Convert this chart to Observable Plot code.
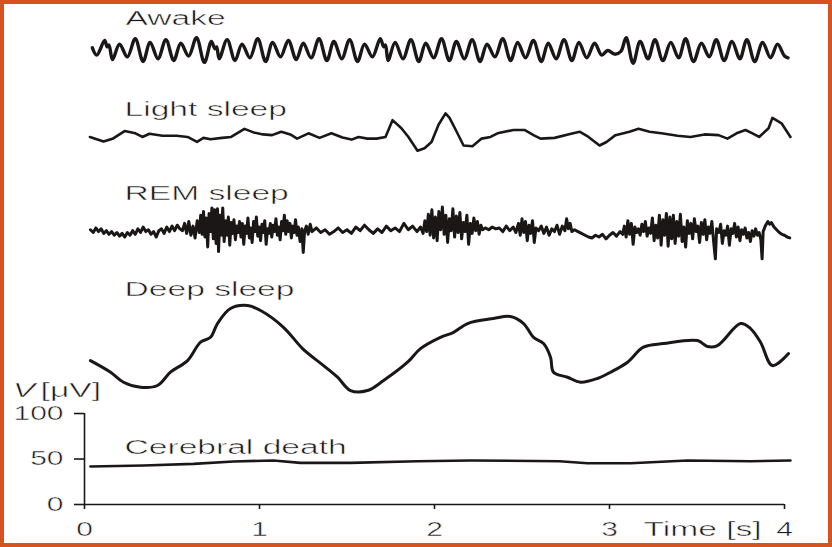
<!DOCTYPE html>
<html>
<head>
<meta charset="utf-8">
<script src="https://cdn.jsdelivr.net/npm/d3@7"></script>
<script src="https://cdn.jsdelivr.net/npm/@observablehq/plot@0.6"></script>
<style>
  html, body { margin: 0; padding: 0; background: #fff; }
  #wrap { position: relative; width: 832px; height: 547px; overflow: hidden; background: #fff; }
  #wrap svg { position: absolute; left: 0; top: 0; }
  #border { position: absolute; left: 0; top: 0; width: 832px; height: 547px; box-sizing: border-box;
            border: 4px solid #d6521f; pointer-events: none; }
</style>
</head>
<body>
<div id="wrap"><div id="chart"></div><div id="border"></div></div>
<script>
// ---------- data (time in s, voltage in µV on the shared axis) ----------
const xTicks = [0, 1, 2, 3, 4];
const yTicks = [0, 50, 100];
const traceNames = ["Awake", "Light sleep", "REM sleep", "Deep sleep", "Cerebral death"];
const labelT = [0.234, 0.229, 0.229, 0.229, 0.229];
const labelV = [534.5, 434.5, 342.2, 236.7, 63.1];
const axisTexts = ["V", "[μV]", "Time [s]"];
const axisTextT = [-0.41, -0.251, 3.194];
const axisTextV = [125.7, 125.7, -28.1];

const awake = [[0.045,502],[0.07,494],[0.115,510],[0.13,503],[0.14,505],[0.16,489],[0.20,506],[0.245,492],[0.29,512],[0.335,487],[0.375,508],[0.42,490],[0.465,511],[0.51,488],[0.55,507],[0.595,493],[0.64,513],[0.685,486],[0.725,509],[0.745,501],[0.755,503],[0.77,490],[0.815,511],[0.86,488],[0.90,506],[0.945,491],[0.99,512],[1.035,487],[1.075,508],[1.12,492],[1.165,510],[1.21,489],[1.25,507],[1.295,491],[1.34,512],[1.385,488],[1.425,509],[1.47,490],[1.515,511],[1.56,487],[1.60,506],[1.645,492],[1.69,512],[1.71,503],[1.72,505],[1.735,488],[1.775,508],[1.82,490],[1.865,511],[1.91,487],[1.95,507],[1.995,491],[2.04,512],[2.085,488],[2.125,509],[2.17,490],[2.215,511],[2.26,487],[2.30,506],[2.345,492],[2.39,512],[2.435,488],[2.475,508],[2.52,491],[2.565,510],[2.61,487],[2.65,507],[2.695,490],[2.74,511],[2.785,488],[2.825,508],[2.87,491],[2.915,507],[2.955,494],[2.99,499],[3.03,495],[3.065,498],[3.095,513],[3.135,485],[3.175,509],[3.22,490],[3.26,511],[3.305,488],[3.35,508],[3.395,491],[3.435,512],[3.48,487],[3.525,507],[3.57,492],[3.61,511],[3.655,488],[3.70,509],[3.745,490],[3.785,511],[3.83,487],[3.875,508],[3.92,491],[3.96,506],[4.0,493],[4.02,491]];

const lightSleep = [[0.031,404],[0.109,399],[0.16,402],[0.229,410.5],[0.291,408],[0.331,404],[0.371,407.5],[0.446,405.3],[0.526,405.3],[0.589,404],[0.643,398.5],[0.68,403],[0.72,401.4],[0.786,403],[0.838,404],[0.914,412.9],[0.966,409],[1.02,406.8],[1.072,406],[1.124,409.8],[1.176,406.8],[1.215,402.2],[1.28,408],[1.343,403],[1.411,408],[1.474,403.4],[1.526,401.1],[1.566,404],[1.617,402.2],[1.669,402.2],[1.72,404],[1.76,422.5],[1.811,413.6],[1.851,404],[1.903,388.9],[1.943,391.6],[1.983,398.5],[2.023,417.4],[2.063,430],[2.086,425],[2.126,410],[2.166,394.6],[2.217,393.8],[2.269,402.2],[2.32,404],[2.36,408],[2.451,411.7],[2.514,411.7],[2.566,406],[2.606,402.2],[2.686,403],[2.763,406.8],[2.829,409.8],[2.88,404],[2.943,394.6],[2.983,398.5],[3.034,406],[3.114,409.8],[3.166,412.9],[3.229,409.8],[3.297,408],[3.389,405.3],[3.463,404],[3.543,406.8],[3.623,406],[3.674,402.2],[3.726,408],[3.777,411.7],[3.817,408],[3.855,404],[3.909,413.6],[3.931,425],[3.983,419],[4.034,404]];

const remSleep = [[0.034,302],[0.05,299],[0.065,304],[0.08,300],[0.095,303],[0.11,298],[0.125,301],[0.14,297],[0.155,300],[0.17,296],[0.185,299],[0.20,295],[0.215,298],[0.23,294],[0.245,299],[0.26,296],[0.275,301],[0.29,297],[0.305,303],[0.32,299],[0.335,305],[0.35,300],[0.365,302],[0.38,297],[0.395,300],[0.41,294],[0.425,301],[0.44,303],[0.455,298],[0.47,305],[0.485,300],[0.50,306],[0.515,301],[0.53,307],[0.545,303],
[0.56,301],[0.572,309],[0.584,298],[0.596,311],[0.608,296],[0.62,306],[0.632,293],[0.644,312],[0.656,299],[0.664,318],[0.672,297],[0.68,322],[0.688,294],[0.696,315],[0.704,283],[0.712,320],[0.72,300],[0.728,326],[0.736,292],[0.744,324],[0.752,287],[0.76,325],[0.766,278],[0.774,318],[0.782,296],[0.79,326],[0.798,289],[0.806,312],[0.814,296],[0.822,316],[0.83,285],[0.838,310],[0.846,298],[0.854,313],[0.862,291],[0.87,306],[0.878,299],[0.886,311],
[0.894,294],[0.902,309],[0.91,286],[0.918,306],[0.926,298],[0.934,315],[0.942,293],[0.95,304],[0.958,288],[0.966,311],[0.974,300],[0.982,316],[0.99,295],[0.998,305],[1.006,290],[1.014,308],[1.022,299],[1.03,312],[1.038,286],[1.046,303],[1.054,298],[1.062,309],[1.07,294],[1.078,307],[1.086,300],[1.094,314],[1.102,296],[1.11,305],[1.118,291],[1.126,311],[1.134,301],[1.142,318],[1.15,297],[1.158,312],[1.166,300],[1.174,309],[1.182,293],[1.19,306],[1.198,299],[1.206,313],[1.214,296],[1.222,305],[1.232,289],[1.242,303],[1.25,277],[1.258,301],[1.268,306],[1.278,297],[1.29,308],[1.30,300],
[1.325,304],[1.35,299],[1.375,302],[1.40,297],[1.425,300],[1.45,304],[1.475,299],[1.50,302],[1.525,298],[1.55,305],[1.575,301],[1.60,307],[1.625,302],[1.65,298],[1.675,303],[1.70,299],[1.725,306],[1.75,301],[1.775,304],[1.80,300],[1.825,309],[1.85,302],[1.875,306],[1.90,300],[1.92,305],
[1.935,298],[1.945,312],[1.955,300],[1.965,319],[1.975,296],[1.985,324],[1.995,293],[2.005,316],[2.015,290],[2.025,322],[2.035,302],[2.045,327],[2.055,297],[2.065,318],[2.075,288],[2.085,314],[2.095,301],[2.105,325],[2.115,294],[2.125,317],[2.135,299],[2.145,321],[2.155,292],[2.165,310],[2.175,300],[2.185,318],[2.195,286],[2.205,309],[2.215,298],[2.225,315],[2.235,301],[2.245,311],[2.255,297],[2.265,307],[2.275,302],
[2.29,304],[2.31,302],[2.33,305],[2.35,303],[2.37,304],[2.39,300],[2.41,306],[2.43,301],[2.45,305],[2.465,299],
[2.48,309],[2.49,296],[2.50,314],[2.51,299],[2.52,311],[2.53,290],[2.54,307],[2.55,298],[2.56,312],[2.57,288],[2.58,304],[2.595,301],[2.61,306],[2.625,298],[2.64,305],[2.655,296],[2.67,303],[2.685,300],[2.70,307],[2.715,297],[2.73,306],[2.745,301],[2.755,314],[2.765,303],[2.775,309],[2.785,300],
[2.80,302],[2.82,300],[2.84,298],[2.86,296],[2.88,294],[2.90,293],[2.92,296],[2.94,294],[2.96,297],[2.98,292],[3.00,296],[3.02,299],[3.04,295],[3.06,300],[3.075,297],
[3.085,306],[3.095,294],[3.105,312],[3.115,297],[3.125,309],[3.135,286],[3.145,305],[3.155,299],[3.165,303],[3.175,296],[3.185,308],[3.195,300],[3.205,311],[3.215,295],[3.225,304],[3.235,298],[3.245,315],[3.255,290],[3.265,307],[3.275,293],[3.285,318],[3.295,285],[3.305,313],[3.315,296],[3.325,320],[3.335,284],[3.345,316],[3.355,292],[3.365,318],[3.375,287],[3.385,311],[3.395,295],[3.405,319],[3.415,289],[3.425,305],[3.435,283],[3.445,312],[3.455,298],[3.465,309],[3.475,292],[3.485,314],[3.495,300],[3.505,306],[3.515,288],[3.525,310],[3.535,297],[3.545,313],[3.555,291],[3.565,305],[3.575,298],[3.585,311],[3.595,289],[3.605,270],[3.612,303],[3.625,299],[3.635,308],[3.645,287],[3.655,301],[3.665,296],[3.675,306],[3.685,285],[3.695,303],[3.705,298],[3.715,309],[3.725,294],[3.735,305],[3.745,290],[3.755,302],[3.765,297],
[3.775,304],[3.785,293],[3.795,299],[3.805,289],[3.815,301],[3.825,295],[3.835,303],[3.845,296],[3.855,299],[3.865,291],[3.872,270],[3.878,300],
[3.89,306],[3.905,311],[3.915,308],[3.925,310],[3.94,305],[3.955,302],[3.97,299],[3.985,297],[4.00,296],[4.015,294],[4.03,293]];

const deepSleep = [[0.034,158.2],[0.149,145.4],[0.223,134.4],[0.32,128.9],[0.417,130.8],[0.491,145.4],[0.589,158.2],[0.663,178.4],[0.72,183.8],[0.76,198.9],[0.834,215.4],[0.931,218.7],[1.006,213.2],[1.137,194.8],[1.246,171.4],[1.366,152.7],[1.446,139.9],[1.52,125.3],[1.617,125.3],[1.709,136.3],[1.846,156.4],[1.92,171.4],[2.034,183.8],[2.109,189.3],[2.189,198.9],[2.337,204.4],[2.434,206.6],[2.509,198.9],[2.566,183.8],[2.623,176.9],[2.663,161.9],[2.68,145.4],[2.76,139.9],[2.834,134.4],[2.931,138.5],[3.006,145.4],[3.103,156.4],[3.194,172.9],[3.309,176.9],[3.503,180.2],[3.56,173.6],[3.617,174.7],[3.749,198.9],[3.806,193.4],[3.863,178.4],[3.931,152.7],[4.023,165.9]];

const cerebralDeath = [[0.034,41.8],[0.337,42.9],[0.623,44.7],[0.851,47.3],[1.08,48.4],[1.234,45.8],[1.52,45.8],[1.903,47.6],[2.206,48.4],[2.714,47.6],[2.874,45.4],[3.12,45.4],[3.446,48.4],[3.806,47.6],[4.034,48.4]];

// ---------- tables for the library ----------
const seriesList = [awake, lightSleep, remSleep, deepSleep, cerebralDeath];
const widths = [3.4, 2.6, 3, 3, 2.6];
const curves = ["catmull-rom", "linear", "linear", "catmull-rom", "linear"];
const toRows = (arr, name) => arr.map(([t, v]) => ({t, v, trace: name}));
const labelRows = traceNames.map((name, i) => ({t: labelT[i], v: labelV[i], name}));
const axisTextRows = axisTexts.map((s, i) => ({t: axisTextT[i], v: axisTextV[i], s, italic: i === 0}));

const ink = "#1b1717";

const chart = Plot.plot({
  width: 832,
  height: 547,
  marginLeft: 84,
  marginRight: 48,
  marginTop: 0,
  marginBottom: 43,
  x: {domain: [0, 4]},
  y: {domain: [0, 554]},
  style: {fontFamily: "'Liberation Sans', Arial, Helvetica, sans-serif", fontSize: "20px", background: "transparent", color: ink},
  marks: [
    Plot.ruleX([0], {y1: 0, y2: 100, stroke: ink, strokeWidth: 1.6}),
    Plot.ruleY([0], {x1: 0, x2: 4, stroke: ink, strokeWidth: 1.6}),
    Plot.axisX({ticks: xTicks, tickSize: 5, tickFormat: () => "", label: null, stroke: ink, strokeWidth: 1.6}),
    Plot.axisY({ticks: yTicks, tickSize: 10, tickFormat: () => "", label: null, stroke: ink, strokeWidth: 1.6}),
    Plot.text(xTicks, {x: d => d, frameAnchor: "bottom", lineAnchor: "middle", dy: 25, text: d => String(d), textAnchor: "middle", fill: ink, className: "ticklab"}),
    Plot.text(yTicks, {y: d => d, frameAnchor: "left", lineAnchor: "middle", dx: -21, text: d => String(d), textAnchor: "end", fill: ink, className: "ticklab"}),
    ...seriesList.map((s, i) => Plot.line(toRows(s, traceNames[i]), {
      x: "t", y: "v", stroke: ink, strokeWidth: widths[i], strokeLinejoin: "round", strokeLinecap: "round", curve: curves[i]
    })),
    Plot.text(labelRows, {x: "t", y: "v", text: "name", textAnchor: "start", lineAnchor: "middle", fill: ink}),
    Plot.text(axisTextRows.filter(d => d.italic), {x: "t", y: "v", text: "s", textAnchor: "start", lineAnchor: "middle", fill: ink, fontStyle: "italic"}),
    Plot.text(axisTextRows.filter(d => !d.italic), {x: "t", y: "v", text: "s", textAnchor: "start", lineAnchor: "middle", fill: ink})
  ]
});

document.getElementById("chart").appendChild(chart);

// the reference typeface is drawn wide and thin: stretch each text horizontally about its anchor
chart.querySelectorAll("text").forEach(el => {
  const bb = el.getBBox();
  if (!(bb.width > 0)) return;
  const isTick = !!el.closest(".ticklab") || /^\d+$/.test(el.textContent.trim());
  const k = isTick ? 1.5 : 1.68;
  const anchor = getComputedStyle(el).textAnchor || "start";
  const x0 = anchor === "end" ? bb.x + bb.width : anchor === "middle" ? bb.x + bb.width / 2 : bb.x;
  const prev = el.getAttribute("transform") || "";
  el.setAttribute("transform", `${prev} translate(${x0},0) scale(${k},1) translate(${-x0},0)`.trim());
  el.setAttribute("stroke", "#fff");
  el.setAttribute("stroke-width", "0.45");
});
</script>
</body>
</html>
